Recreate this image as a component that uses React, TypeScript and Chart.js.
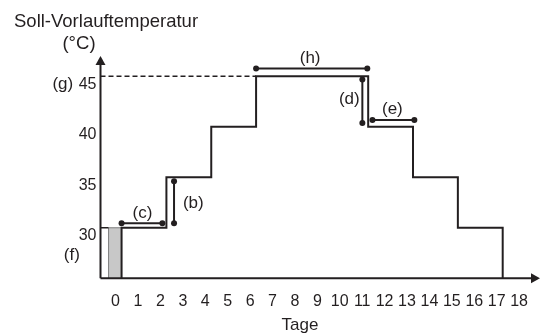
import React, { useEffect, useRef } from 'react';
import { Chart, registerables } from 'chart.js';

Chart.register(...registerables);

// ---- data ----
const dayTicks = [0, 1, 2, 3, 4, 5, 6, 7, 8, 9, 10, 11, 12, 13, 14, 15, 16, 17, 18];
const tempTicks = [30, 35, 40, 45];
const dayMin = -0.94;
const dayMax = 18.53;
const baseTemp = 25;
const maxTemp = 47;

const stepStartDays = [0, 2, 4, 6, 11, 13, 15];
const stepTemps = [30, 35, 40, 45, 40, 35, 30];
const stepEndDay = 17;

const preheatDays = [-0.58, 0];
const preheatTemp = 30;
const maxLineDays = [dayMin, 6];
const maxLineTemp = 45;
const startTickDays = [dayMin, -0.58];

const cSegDays = [0, 1.82];
const cSegTemps = [30.46, 30.46];
const bSegDays = [2.34, 2.34];
const bSegTemps = [30.46, 34.6];
const hSegDays = [6, 10.96];
const hSegTemps = [45.77, 45.77];
const dSegDays = [10.74, 10.74];
const dSegTemps = [44.67, 40.36];
const eSegDays = [11.19, 13.06];
const eSegTemps = [40.66, 40.66];

const markerNames = ['(b)', '(c)', '(d)', '(e)', '(h)', '(g)', '(f)'];
const markerDays = [3.2, 0.93, 10.16, 12.08, 8.41, -2.62, -2.22];
const markerTemps = [32.47, 31.48, 42.75, 41.75, 46.82, 44.2, 27.25];

const yTitleLines = ['Soll-Vorlauftemperatur', '(°C)'];
const xTitle = 'Tage';

const ink = '#231f20';
const family = "'Liberation Sans', Arial, Helvetica, sans-serif";

function buildSteps() {
  const pts: { x: number; y: number }[] = [{ x: stepStartDays[0], y: baseTemp }];
  for (let i = 0; i < stepStartDays.length; i++) {
    const end = i + 1 < stepStartDays.length ? stepStartDays[i + 1] : stepEndDay;
    pts.push({ x: stepStartDays[i], y: stepTemps[i] });
    pts.push({ x: end, y: stepTemps[i] });
  }
  pts.push({ x: stepEndDay, y: baseTemp });
  return pts;
}

function seg(days: number[], temps: number[]) {
  return days.map((d, i) => ({ x: d, y: temps[i] }));
}

const overlay = {
  id: 'overlay',
  afterDraw(chart: any) {
    const { ctx, chartArea, scales } = chart;
    const xs = scales.x;
    const ys = scales.y;
    ctx.save();
    ctx.strokeStyle = ink;
    ctx.fillStyle = ink;
    ctx.lineWidth = 2;
    const left = chartArea.left;
    const bottom = chartArea.bottom;
    const tipX = chart.width;
    // axes
    ctx.beginPath();
    ctx.moveTo(left, bottom);
    ctx.lineTo(tipX - 6, bottom);
    ctx.moveTo(left, bottom);
    ctx.lineTo(left, chartArea.top + 6);
    ctx.stroke();
    // arrowheads
    ctx.beginPath();
    ctx.moveTo(left, chartArea.top);
    ctx.lineTo(left - 5, chartArea.top + 9);
    ctx.lineTo(left + 5, chartArea.top + 9);
    ctx.closePath();
    ctx.fill();
    ctx.beginPath();
    ctx.moveTo(tipX, bottom);
    ctx.lineTo(tipX - 9, bottom - 5);
    ctx.lineTo(tipX - 9, bottom + 5);
    ctx.closePath();
    ctx.fill();

    // marker labels
    ctx.font = `17px ${family}`;
    ctx.textAlign = 'center';
    ctx.textBaseline = 'middle';
    markerNames.forEach((name, i) => {
      ctx.fillText(name, xs.getPixelForValue(markerDays[i]), ys.getPixelForValue(markerTemps[i]));
    });

    // titles
    ctx.font = `18.5px ${family}`;
    ctx.textAlign = 'left';
    ctx.fillText(yTitleLines[0], 14, 22);
    ctx.textAlign = 'center';
    ctx.fillText(yTitleLines[1], 79, 44);
    ctx.font = `17px ${family}`;
    ctx.fillText(xTitle, 300, 325);
    ctx.restore();
  },
};

export default function App() {
  const ref = useRef<HTMLCanvasElement | null>(null);
  useEffect(() => {
    document.body.style.margin = '0';
    const canvas = ref.current;
    if (!canvas) return;
    const lineSeg = (data: any[], extra: any = {}) => ({
      data,
      borderColor: ink,
      backgroundColor: ink,
      borderWidth: 2,
      pointRadius: 3,
      pointHoverRadius: 3,
      pointBackgroundColor: ink,
      pointBorderWidth: 0,
      fill: false,
      tension: 0,
      ...extra,
    });
    const chart = new Chart(canvas, {
      type: 'line',
      data: {
        datasets: [
          lineSeg(buildSteps(), { pointRadius: 0, borderJoinStyle: 'miter', borderCapStyle: 'butt' }),
          lineSeg(seg(cSegDays, cSegTemps)),
          lineSeg(seg(bSegDays, bSegTemps)),
          lineSeg(seg(hSegDays, hSegTemps)),
          lineSeg(seg(dSegDays, dSegTemps)),
          lineSeg(seg(eSegDays, eSegTemps)),
          lineSeg(seg(maxLineDays, [maxLineTemp, maxLineTemp]), {
            pointRadius: 0,
            borderWidth: 1.5,
            borderDash: [5, 3],
          }),
          lineSeg(seg(startTickDays, [preheatTemp, preheatTemp]), { pointRadius: 0, borderWidth: 1.5 }),
          {
            data: [
              { x: preheatDays[0], y: baseTemp },
              { x: preheatDays[0], y: preheatTemp },
              { x: preheatDays[1], y: preheatTemp },
            ],
            borderColor: '#7d7d7d',
            borderWidth: 1,
            pointRadius: 0,
            fill: false,
          },
          {
            data: seg(preheatDays, [preheatTemp, preheatTemp]),
            borderWidth: 0,
            borderColor: 'rgba(0,0,0,0)',
            backgroundColor: '#c8c8c8',
            pointRadius: 0,
            fill: 'start',
          },
        ] as any,
      },
      options: {
        animation: false,
        responsive: false,
        events: [],
        layout: { padding: { left: 0, right: 0, top: 56, bottom: 0 } },
        plugins: {
          legend: { display: false },
          tooltip: { enabled: false },
          title: { display: false },
        },
        scales: {
          x: {
            type: 'linear',
            min: dayMin,
            max: dayMax,
            grid: { display: false, drawTicks: false },
            border: { display: false },
            afterBuildTicks: (s: any) => {
              s.ticks = dayTicks.map((v) => ({ value: v }));
            },
            afterFit: (s: any) => {
              s.height = 334 - 278.3;
              s.paddingLeft = 0;
              s.paddingRight = 0;
            },
            ticks: {
              padding: 14,
              labelOffset: -6,
              color: ink,
              autoSkip: false,
              maxRotation: 0,
              minRotation: 0,
              font: { family, size: 16 },
              callback: (v: any) => String(v),
            },
          },
          y: {
            type: 'linear',
            min: baseTemp,
            max: maxTemp,
            grid: { display: false, drawTicks: false },
            border: { display: false },
            afterBuildTicks: (s: any) => {
              s.ticks = tempTicks.map((v) => ({ value: v }));
            },
            afterFit: (s: any) => {
              s.width = 100.5;
              s.paddingTop = 0;
              s.paddingBottom = 0;
            },
            ticks: {
              padding: 4,
              labelOffset: 8,
              color: ink,
              font: { family, size: 16 },
              callback: (v: any) => String(v),
            },
          },
        },
      } as any,
      plugins: [overlay],
    });
    return () => chart.destroy();
  }, []);
  return (
    <div style={{ width: 540, height: 334 }}>
      <canvas ref={ref} width={540} height={334} style={{ display: 'block' }} />
    </div>
  );
}
